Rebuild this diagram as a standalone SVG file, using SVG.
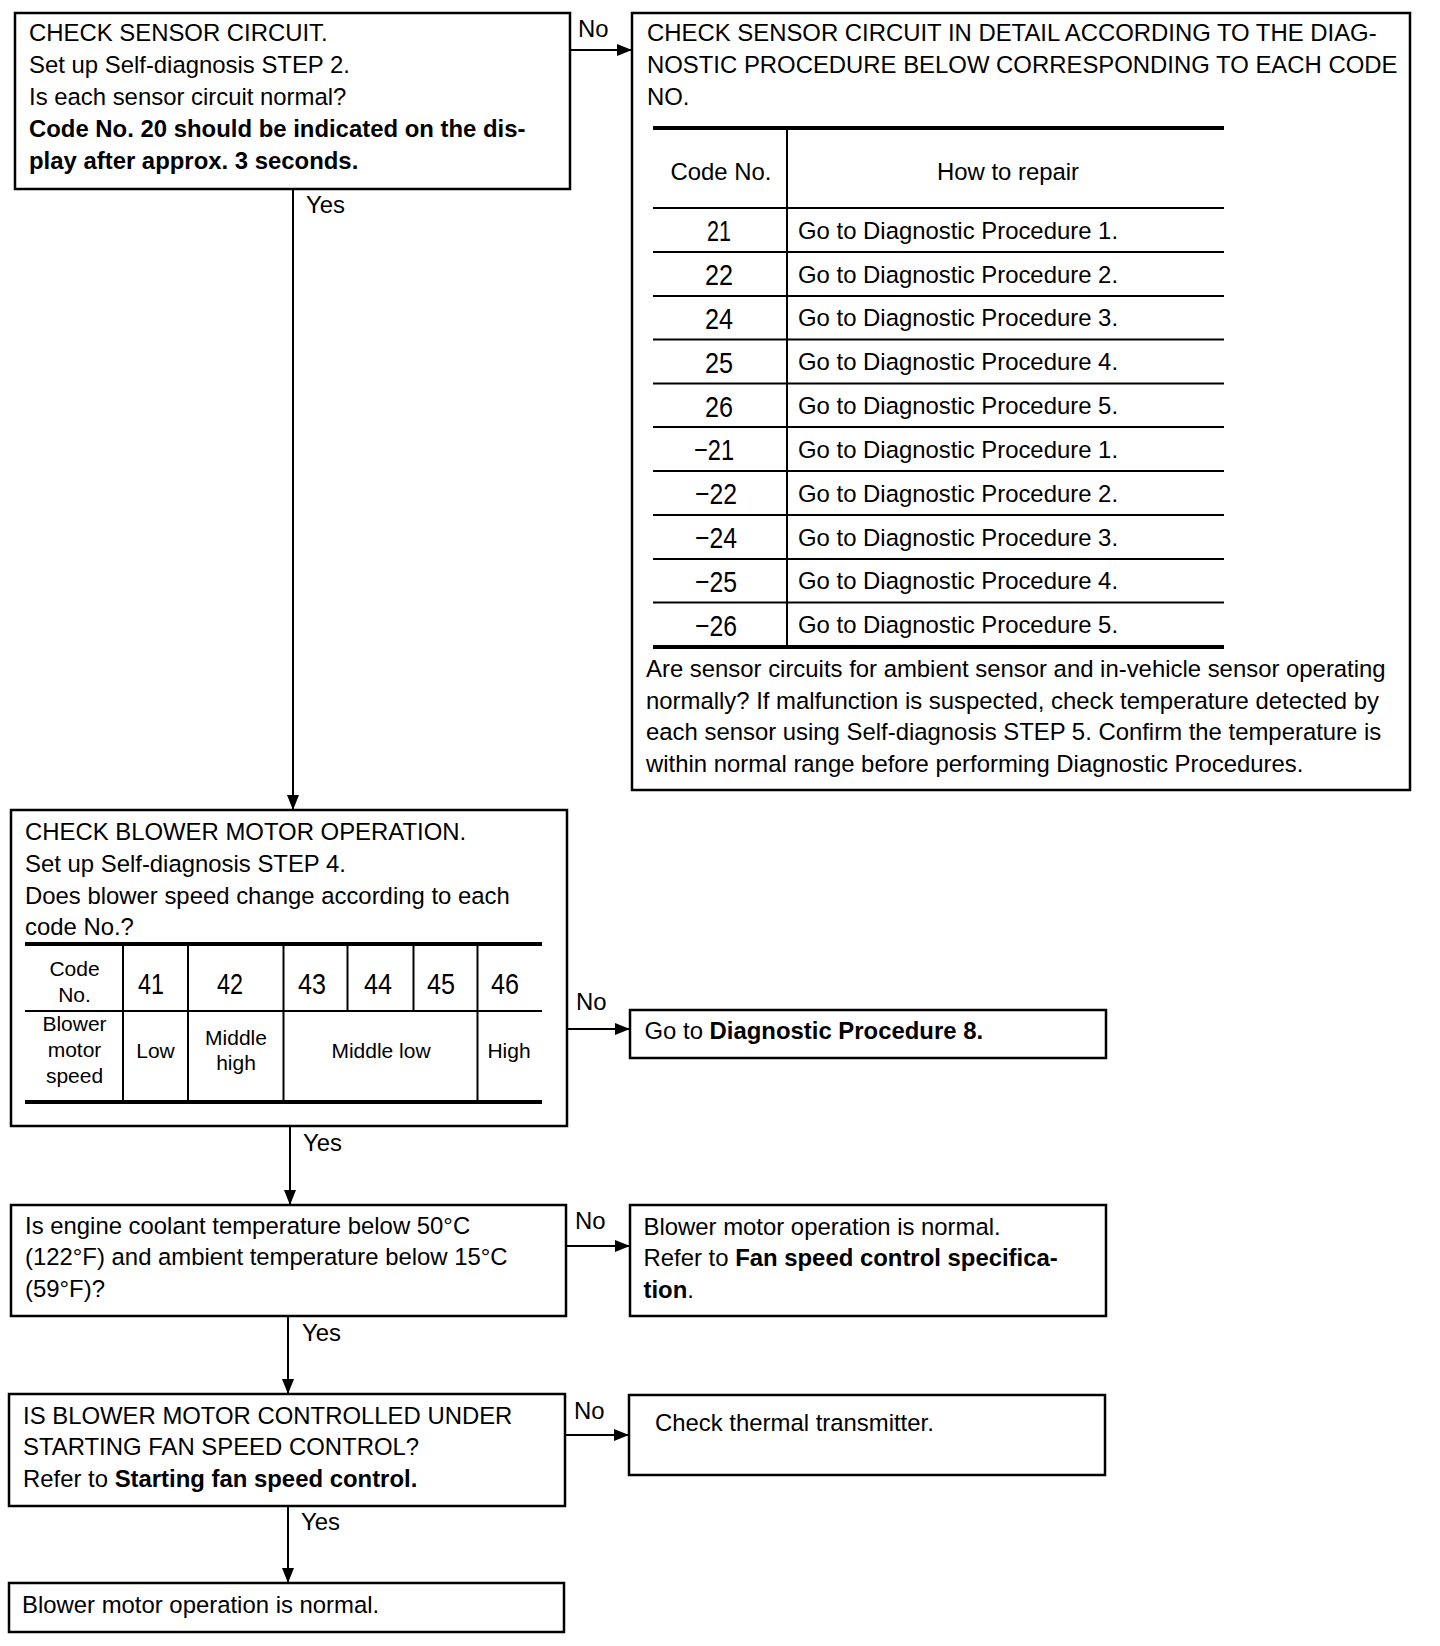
<svg xmlns="http://www.w3.org/2000/svg" width="1440" height="1646" viewBox="0 0 1440 1646">
<style>
text{font-family:"Liberation Sans",Arial,sans-serif;fill:#000}
.t{font-size:23.9px}
.s{font-size:21px}
.c{text-anchor:middle}
.b{font-weight:bold}
.d{font-size:30px;text-anchor:middle}
.box{fill:#fff;stroke:#000;stroke-width:2.5}
.ln{stroke:#000;stroke-width:2;fill:none}
.thk{stroke:#000;stroke-width:4}
.thn{stroke:#000;stroke-width:2}
</style>
<defs>
<marker id="ah" markerUnits="userSpaceOnUse" markerWidth="15" markerHeight="12" refX="15" refY="6" orient="auto">
<path d="M0,0 L15,6 L0,12 z" fill="#000"/>
</marker>
</defs>
<rect width="1440" height="1646" fill="#fff"/>

<g id="connectors">
<line class="ln" x1="570" y1="50" x2="632" y2="50" marker-end="url(#ah)"/>
<text class="t" x="578" y="37">No</text>
<line class="ln" x1="293" y1="189" x2="293" y2="810" marker-end="url(#ah)"/>
<text class="t" x="306" y="213">Yes</text>
<line class="ln" x1="567" y1="1029" x2="630" y2="1029" marker-end="url(#ah)"/>
<text class="t" x="576" y="1010">No</text>
<line class="ln" x1="290" y1="1126" x2="290" y2="1205" marker-end="url(#ah)"/>
<text class="t" x="303" y="1151">Yes</text>
<line class="ln" x1="566" y1="1246" x2="630" y2="1246" marker-end="url(#ah)"/>
<text class="t" x="575" y="1229">No</text>
<line class="ln" x1="288" y1="1316" x2="288" y2="1394" marker-end="url(#ah)"/>
<text class="t" x="302" y="1341">Yes</text>
<line class="ln" x1="565" y1="1435" x2="629" y2="1435" marker-end="url(#ah)"/>
<text class="t" x="574" y="1419">No</text>
<line class="ln" x1="288" y1="1506" x2="288" y2="1583" marker-end="url(#ah)"/>
<text class="t" x="301" y="1530">Yes</text>
</g>

<g id="n1">
<rect class="box" x="15" y="13" width="555" height="176"/>
<text class="t" x="29" y="41">CHECK SENSOR CIRCUIT.</text>
<text class="t" x="29" y="73">Set up Self-diagnosis STEP 2.</text>
<text class="t" x="29" y="105">Is each sensor circuit normal?</text>
<text class="t b" x="29" y="137">Code No. 20 should be indicated on the dis-</text>
<text class="t b" x="29" y="169">play after approx. 3 seconds.</text>
</g>

<g id="n2">
<rect class="box" x="632" y="13" width="778" height="777"/>
<text class="t" x="647" y="41">CHECK SENSOR CIRCUIT IN DETAIL ACCORDING TO THE DIAG-</text>
<text class="t" x="647" y="73">NOSTIC PROCEDURE BELOW CORRESPONDING TO EACH CODE</text>
<text class="t" x="647" y="105">NO.</text>
<line class="thk" x1="653" y1="128" x2="1224" y2="128"/>
<line class="thn" x1="787" y1="128" x2="787" y2="646"/>
<text class="t c" x="721" y="179.5">Code No.</text>
<text class="t c" x="1008" y="179.5">How to repair</text>
<line class="thn" x1="653" y1="208" x2="1224" y2="208"/>
<line class="thn" x1="653" y1="252" x2="1224" y2="252"/>
<line class="thn" x1="653" y1="296" x2="1224" y2="296"/>
<line class="thn" x1="653" y1="339.5" x2="1224" y2="339.5"/>
<line class="thn" x1="653" y1="383.5" x2="1224" y2="383.5"/>
<line class="thn" x1="653" y1="427" x2="1224" y2="427"/>
<line class="thn" x1="653" y1="471" x2="1224" y2="471"/>
<line class="thn" x1="653" y1="515" x2="1224" y2="515"/>
<line class="thn" x1="653" y1="559" x2="1224" y2="559"/>
<line class="thn" x1="653" y1="602.5" x2="1224" y2="602.5"/>
<line class="thk" x1="653" y1="647" x2="1224" y2="647"/>
<text class="d" x="719" y="241" textLength="24" lengthAdjust="spacingAndGlyphs">21</text>
<text class="d" x="719" y="285" textLength="28" lengthAdjust="spacingAndGlyphs">22</text>
<text class="d" x="719" y="329" textLength="28" lengthAdjust="spacingAndGlyphs">24</text>
<text class="d" x="719" y="372.5" textLength="28" lengthAdjust="spacingAndGlyphs">25</text>
<text class="d" x="719" y="416.5" textLength="28" lengthAdjust="spacingAndGlyphs">26</text>
<text class="d" x="714" y="460" textLength="40" lengthAdjust="spacingAndGlyphs">−21</text>
<text class="d" x="716" y="504" textLength="42" lengthAdjust="spacingAndGlyphs">−22</text>
<text class="d" x="716" y="548" textLength="42" lengthAdjust="spacingAndGlyphs">−24</text>
<text class="d" x="716" y="591.5" textLength="42" lengthAdjust="spacingAndGlyphs">−25</text>
<text class="d" x="716" y="635.5" textLength="42" lengthAdjust="spacingAndGlyphs">−26</text>
<text class="t" x="798" y="238.5">Go to Diagnostic Procedure 1.</text>
<text class="t" x="798" y="282.5">Go to Diagnostic Procedure 2.</text>
<text class="t" x="798" y="326">Go to Diagnostic Procedure 3.</text>
<text class="t" x="798" y="370">Go to Diagnostic Procedure 4.</text>
<text class="t" x="798" y="414">Go to Diagnostic Procedure 5.</text>
<text class="t" x="798" y="457.5">Go to Diagnostic Procedure 1.</text>
<text class="t" x="798" y="501.5">Go to Diagnostic Procedure 2.</text>
<text class="t" x="798" y="545.5">Go to Diagnostic Procedure 3.</text>
<text class="t" x="798" y="589">Go to Diagnostic Procedure 4.</text>
<text class="t" x="798" y="633">Go to Diagnostic Procedure 5.</text>
<text class="t" x="646" y="677">Are sensor circuits for ambient sensor and in-vehicle sensor operating</text>
<text class="t" x="646" y="708.5">normally? If malfunction is suspected, check temperature detected by</text>
<text class="t" x="646" y="740">each sensor using Self-diagnosis STEP 5. Confirm the temperature is</text>
<text class="t" x="646" y="771.5">within normal range before performing Diagnostic Procedures.</text>
</g>

<g id="n3">
<rect class="box" x="11" y="810" width="556" height="316"/>
<text class="t" x="25" y="840">CHECK BLOWER MOTOR OPERATION.</text>
<text class="t" x="25" y="872">Set up Self-diagnosis STEP 4.</text>
<text class="t" x="25" y="904">Does blower speed change according to each</text>
<text class="t" x="25" y="935">code No.?</text>
<line class="thk" x1="25" y1="944" x2="542" y2="944"/>
<line class="thn" x1="25" y1="1011" x2="542" y2="1011"/>
<line class="thk" x1="25" y1="1102" x2="542" y2="1102"/>
<line class="thn" x1="123" y1="944" x2="123" y2="1102"/>
<line class="thn" x1="188" y1="944" x2="188" y2="1102"/>
<line class="thn" x1="283.5" y1="944" x2="283.5" y2="1102"/>
<line class="thn" x1="347.5" y1="944" x2="347.5" y2="1011"/>
<line class="thn" x1="413.5" y1="944" x2="413.5" y2="1011"/>
<line class="thn" x1="477.5" y1="944" x2="477.5" y2="1102"/>
<text class="s c" x="74.5" y="975.5">Code</text>
<text class="s c" x="74.5" y="1001.5">No.</text>
<text class="d" x="151" y="994" textLength="26" lengthAdjust="spacingAndGlyphs">41</text>
<text class="d" x="230" y="994" textLength="26" lengthAdjust="spacingAndGlyphs">42</text>
<text class="d" x="312" y="994" textLength="28" lengthAdjust="spacingAndGlyphs">43</text>
<text class="d" x="378" y="994" textLength="28" lengthAdjust="spacingAndGlyphs">44</text>
<text class="d" x="441" y="994" textLength="28" lengthAdjust="spacingAndGlyphs">45</text>
<text class="d" x="505" y="994" textLength="28" lengthAdjust="spacingAndGlyphs">46</text>
<text class="s c" x="74.5" y="1031">Blower</text>
<text class="s c" x="74.5" y="1057">motor</text>
<text class="s c" x="74.5" y="1083">speed</text>
<text class="s c" x="155.5" y="1058">Low</text>
<text class="s c" x="236" y="1044.5">Middle</text>
<text class="s c" x="236" y="1070">high</text>
<text class="s c" x="381" y="1058">Middle low</text>
<text class="s c" x="509" y="1058">High</text>
</g>

<g id="n4">
<rect class="box" x="630" y="1010" width="476" height="48"/>
<text class="t" x="644.5" y="1039">Go to <tspan class="b">Diagnostic Procedure 8.</tspan></text>
</g>

<g id="n5">
<rect class="box" x="11" y="1205" width="555" height="111"/>
<text class="t" x="25" y="1233.5">Is engine coolant temperature below 50°C</text>
<text class="t" x="25" y="1265">(122°F) and ambient temperature below 15°C</text>
<text class="t" x="25" y="1296.5">(59°F)?</text>
</g>

<g id="n6">
<rect class="box" x="630" y="1205" width="476" height="111"/>
<text class="t" x="643.5" y="1234.5">Blower motor operation is normal.</text>
<text class="t" x="643.5" y="1266">Refer to <tspan class="b">Fan speed control specifica-</tspan></text>
<text class="t" x="643.5" y="1297.5"><tspan class="b">tion</tspan>.</text>
</g>

<g id="n7">
<rect class="box" x="9" y="1394" width="556" height="112"/>
<text class="t" x="23" y="1423.5">IS BLOWER MOTOR CONTROLLED UNDER</text>
<text class="t" x="23" y="1454.5">STARTING FAN SPEED CONTROL?</text>
<text class="t" x="23" y="1486.5">Refer to <tspan class="b">Starting fan speed control.</tspan></text>
</g>

<g id="n8">
<rect class="box" x="629" y="1395" width="476" height="80"/>
<text class="t" x="655" y="1430.5">Check thermal transmitter.</text>
</g>

<g id="n9">
<rect class="box" x="9" y="1583" width="555" height="49"/>
<text class="t" x="22" y="1612.5">Blower motor operation is normal.</text>
</g>
</svg>
